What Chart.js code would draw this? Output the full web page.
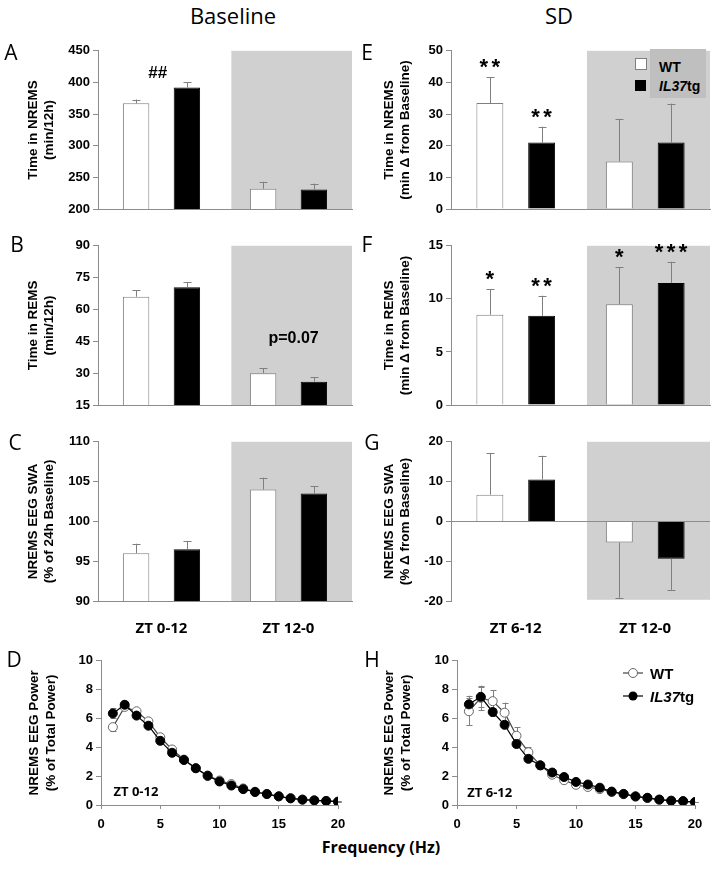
<!DOCTYPE html>
<html>
<head>
  <meta charset="utf-8">
  <title>NREMS / REMS / SWA in WT and IL37tg mice</title>
  <script src="https://cdn.jsdelivr.net/npm/chart.js"></script>
  <style>
    body { margin: 0; background: #fff; }
    #fig { position: relative; width: 714px; height: 876px; overflow: hidden; }
    #fig canvas { position: absolute; }
    /* text placed by its centre point */
    .c { position: absolute; transform: translate(-50%, -50%); white-space: nowrap; line-height: 1; }
    .head { font-family: "Open Sans", sans-serif; font-size: 22px; }
    .letter { font-family: "Open Sans", sans-serif; font-size: 21px; }
    .leg { position: absolute; transform: translateY(-50%); white-space: nowrap; line-height: 1;
           font-family: "Liberation Sans", Arial, sans-serif; font-weight: bold; }
    .box { position: absolute; }
  </style>
</head>
<body>
<div id="fig">
  <canvas id="chartA" width="357" height="209" style="left:0;top:40px"></canvas>
  <canvas id="chartB" width="357" height="210" style="left:0;top:235px"></canvas>
  <canvas id="chartC" width="357" height="210" style="left:0;top:431px"></canvas>
  <canvas id="chartD" width="357" height="185" style="left:0;top:650px"></canvas>
  <canvas id="chartE" width="357" height="209" style="left:357px;top:40px"></canvas>
  <canvas id="chartF" width="357" height="210" style="left:357px;top:235px"></canvas>
  <canvas id="chartG" width="357" height="210" style="left:357px;top:431px"></canvas>
  <canvas id="chartH" width="357" height="185" style="left:357px;top:650px"></canvas>

  <!-- column headings and panel letters -->
  <div class="c head" style="left:233px;top:15px">Baseline</div>
  <div class="c head" style="left:559px;top:15px">SD</div>
  <div class="c letter" style="left:11px;top:52px">A</div>
  <div class="c letter" style="left:17px;top:244px">B</div>
  <div class="c letter" style="left:15px;top:442px">C</div>
  <div class="c letter" style="left:14px;top:659px">D</div>
  <div class="c letter" style="left:367px;top:52px">E</div>
  <div class="c letter" style="left:367px;top:244px">F</div>
  <div class="c letter" style="left:372px;top:442px">G</div>
  <div class="c letter" style="left:372px;top:659px">H</div>

  <div class="c" style="left:381px;top:847px;font-family:'Open Sans',sans-serif;font-weight:bold;font-size:16px">Frequency (Hz)</div>

  <!-- legend of panel E -->
  <div class="box" style="left:650px;top:49px;width:56px;height:49px;background:#bfbfbf"></div>
  <div class="box" style="left:635px;top:58px;width:10px;height:10px;background:#fff;border:1px solid #7f7f7f"></div>
  <div class="box" style="left:635px;top:80px;width:11px;height:11px;background:#000"></div>
  <div class="leg" style="left:659px;top:67px;font-size:14px">WT</div>
  <div class="leg" style="left:659px;top:86px;font-size:14px"><i>IL37</i>tg</div>

  <!-- legend of panel H -->
  <svg class="box" style="left:620px;top:663px" width="26" height="44">
    <line x1="3" y1="10" x2="23" y2="10" stroke="#444" stroke-width="1.2"/>
    <circle cx="13" cy="10" r="4.5" fill="#fff" stroke="#666" stroke-width="1"/>
    <line x1="3" y1="33" x2="23" y2="33" stroke="#000" stroke-width="1.2"/>
    <circle cx="13" cy="33" r="4.5" fill="#000"/>
  </svg>
  <div class="leg" style="left:650px;top:673px;font-size:15px">WT</div>
  <div class="leg" style="left:650px;top:696px;font-size:15px"><i>IL37</i>tg</div>
</div>

<script>
  // ---- categories ----
  const baseGroups = ['ZT 0-12', 'ZT 12-0'];
  const sdGroups = ['ZT 6-12', 'ZT 12-0'];
  const freqHz = [1, 2, 3, 4, 5, 6, 7, 8, 9, 10, 11, 12, 13, 14, 15, 16, 17, 18, 19, 20];

  // ---- Baseline (A-C) ----
  const nremBaseWT = [367, 232];
  const nremBaseWTErr = [6, 11];
  const nremBaseTG = [392, 231];
  const nremBaseTGErr = [8, 9];

  const remBaseWT = [66, 30];
  const remBaseWTErr = [3, 2.2];
  const remBaseTG = [70.5, 26];
  const remBaseTGErr = [2.5, 2];

  const swaBaseWT = [96, 104];
  const swaBaseWTErr = [1.2, 1.5];
  const swaBaseTG = [96.5, 103.5];
  const swaBaseTGErr = [1.0, 0.9];

  // ---- Sleep deprivation (E-G) ----
  const nremSdWT = [33.5, 15];
  const nremSdWTErr = [8.2, 13.5];
  const nremSdTG = [21, 21];
  const nremSdTGErr = [5, 12.3];

  const remSdWT = [8.5, 9.5];
  const remSdWTErr = [2.4, 3.5];
  const remSdTG = [8.4, 11.5];
  const remSdTGErr = [1.9, 2];

  const swaSdWT = [6.7, -5.3];
  const swaSdWTErr = [10.5, 13.9];
  const swaSdTG = [10.5, -9.4];
  const swaSdTGErr = [6, 7.8];

  // significance marks above bars
  const sigNremSdWT = ['**', ''];
  const sigNremSdTG = ['**', ''];
  const sigRemSdWT = ['*', '*'];
  const sigRemSdTG = ['**', '***'];

  // ---- EEG spectra (D, H) ----
  const specBaseWT = [5.4, 6.8, 6.5, 5.8, 4.7, 3.85, 3.15, 2.55, 2.05, 1.7, 1.45, 1.15, 0.92, 0.76, 0.6, 0.47, 0.38, 0.32, 0.28, 0.23];
  const specBaseWTErr = [0.25, 0.15, 0.12, 0.1, 0.08, 0.06, 0.05, 0.04, 0.03, 0.03, 0.02, 0.02, 0.02, 0.02, 0.02, 0.02, 0.02, 0.02, 0.02, 0.02];
  const specBaseTG = [6.35, 6.95, 6.2, 5.5, 4.45, 3.62, 3.12, 2.55, 2.02, 1.63, 1.35, 1.1, 0.9, 0.76, 0.6, 0.46, 0.37, 0.32, 0.28, 0.23];
  const specBaseTGErr = [0.35, 0.15, 0.1, 0.1, 0.08, 0.06, 0.05, 0.04, 0.03, 0.03, 0.02, 0.02, 0.02, 0.02, 0.02, 0.02, 0.02, 0.02, 0.02, 0.02];

  const specSdWT = [6.5, 7.43, 7.2, 6.4, 4.8, 3.66, 2.75, 2.1, 1.72, 1.4, 1.25, 1.1, 0.9, 0.75, 0.58, 0.48, 0.36, 0.29, 0.25, 0.2];
  const specSdWTErr = [0.95, 0.85, 0.76, 0.7, 0.6, 0.35, 0.25, 0.15, 0.12, 0.1, 0.08, 0.07, 0.06, 0.05, 0.04, 0.03, 0.03, 0.02, 0.02, 0.02];
  const specSdTG = [6.98, 7.5, 6.45, 5.56, 4.23, 3.2, 2.75, 2.25, 1.94, 1.6, 1.42, 1.2, 0.93, 0.77, 0.6, 0.5, 0.38, 0.3, 0.27, 0.2];
  const specSdTGErr = [0.6, 0.7, 0.3, 0.25, 0.2, 0.15, 0.12, 0.1, 0.08, 0.07, 0.06, 0.05, 0.04, 0.04, 0.03, 0.03, 0.02, 0.02, 0.02, 0.02];

  const axisGray = '#8c8c8c';
  const tickFont = { family: "'Liberation Sans', Arial, sans-serif", weight: 'bold', size: 13 };
  const titleFont = { family: "'Liberation Sans', Arial, sans-serif", weight: 'bold', size: 13.5, lineHeight: 1.2 };

  Chart.defaults.font.family = "'Liberation Sans', Arial, sans-serif";
  Chart.defaults.color = '#000';

  // grey "dark phase" background, drawn under axes and bars
  const shadePlugin = {
    id: 'shade',
    beforeDraw(chart, args, opts) {
      if (opts.from == null) return;
      const { ctx, chartArea: a, scales } = chart;
      const x0 = scales.x.getPixelForValue(opts.from);
      const yb = opts.toValue != null ? scales.y.getPixelForValue(opts.toValue) : a.bottom;
      ctx.save();
      ctx.fillStyle = '#d0d0d0';
      ctx.fillRect(x0, a.top, a.right - x0, yb - a.top);
      ctx.restore();
    }
  };

  function drawErrors(chart, type) {
    if (chart.config.type !== type) return;
    const { ctx } = chart;
    const y = chart.scales.y;
    ctx.save();
    ctx.strokeStyle = '#7f7f7f';
    ctx.lineWidth = 1;
    chart.data.datasets.forEach((ds, i) => {
      if (!ds.errors) return;
      chart.getDatasetMeta(i).data.forEach((el, j) => {
        const raw = ds.data[j];
        const v = typeof raw === 'object' ? raw.y : raw;
        const e = ds.errors[j];
        const x = Math.round(el.x) + 0.5;
        const ends = type === 'bar' ? [v, v + (v < 0 ? -e : e)] : [v - e, v + e];
        const p0 = y.getPixelForValue(ends[0]), p1 = y.getPixelForValue(ends[1]);
        ctx.beginPath();
        ctx.moveTo(x, p0);
        ctx.lineTo(x, p1);
        const capW = type === 'bar' ? 4 : 3;
        ctx.moveTo(x - capW, Math.round(p1) + 0.5);
        ctx.lineTo(x + capW, Math.round(p1) + 0.5);
        if (type !== 'bar') {
          ctx.moveTo(x - capW, Math.round(p0) + 0.5);
          ctx.lineTo(x + capW, Math.round(p0) + 0.5);
        }
        ctx.stroke();
      });
    });
    ctx.restore();
  }

  const errorPlugin = {
    id: 'errbars',
    beforeDatasetsDraw(chart) { drawErrors(chart, 'line'); },
    afterDatasetsDraw(chart) { drawErrors(chart, 'bar'); }
  };

  // asterisks above the error bars
  const sigPlugin = {
    id: 'sig',
    afterDatasetsDraw(chart) {
      const { ctx } = chart;
      const y = chart.scales.y;
      ctx.save();
      ctx.fillStyle = '#000';
      ctx.font = "bold 22px 'Liberation Sans', Arial, sans-serif";
      ctx.textBaseline = 'alphabetic';
      chart.data.datasets.forEach((ds, i) => {
        if (!ds.sig) return;
        chart.getDatasetMeta(i).data.forEach((el, j) => {
          const s = ds.sig[j];
          if (!s) return;
          const top = y.getPixelForValue(ds.data[j] + ds.errors[j]);
          const step = 12;
          const x0 = el.x - (s.length - 1) * step / 2;
          ctx.textAlign = 'center';
          for (let k = 0; k < s.length; k++) ctx.fillText(s[k], x0 + k * step, top - 3);
        });
      });
      ctx.restore();
    }
  };

  // free text placed at data coordinates
  const notesPlugin = {
    id: 'notes',
    afterDatasetsDraw(chart, args, opts) {
      if (!opts.items) return;
      const { ctx, scales } = chart;
      ctx.save();
      ctx.fillStyle = '#000';
      ctx.textAlign = 'center';
      ctx.textBaseline = 'middle';
      opts.items.forEach(n => {
        ctx.font = n.font;
        ctx.fillText(n.text, scales.x.getPixelForValue(n.x), scales.y.getPixelForValue(n.y));
      });
      ctx.restore();
    }
  };

  Chart.register(shadePlugin, errorPlugin, sigPlugin, notesPlugin);

  function barPanel(id, labels, wt, wtErr, tg, tgErr, o) {
    return new Chart(document.getElementById(id), {
      type: 'bar',
      data: {
        labels: labels,
        datasets: [
          { label: 'WT', data: wt, errors: wtErr, sig: o.sigWT,
            backgroundColor: '#fff', borderColor: '#7f7f7f', borderWidth: 1,
            categoryPercentage: 0.8, barPercentage: 0.52 },
          { label: 'IL37tg', data: tg, errors: tgErr, sig: o.sigTG,
            backgroundColor: '#000', borderColor: '#000', borderWidth: 1,
            categoryPercentage: 0.8, barPercentage: 0.52 }
        ]
      },
      options: {
        responsive: false,
        animation: false,
        devicePixelRatio: 1,
        layout: { padding: { top: 10, right: o.padRight, bottom: 0, left: 0 } },
        plugins: {
          legend: { display: false },
          tooltip: { enabled: false },
          shade: { from: 0.55, toValue: o.shadeTo },
          notes: { items: o.notes }
        },
        scales: {
          x: {
            grid: { display: true, drawOnChartArea: false, drawTicks: false },
            border: { display: !o.zeroLine, color: axisGray },
            ticks: { display: !!o.showX, color: '#000', padding: 19,
                     font: { family: "'Open Sans', sans-serif", weight: 'bold', size: 15 } },
            afterFit: s => { s.height = 40; }
          },
          y: {
            min: o.min, max: o.max,
            ticks: { stepSize: o.step, color: '#000', font: tickFont, padding: 3 },
            grid: {
              drawOnChartArea: !!o.zeroLine,
              color: c => (c.tick && c.tick.value === 0) ? axisGray : 'rgba(0,0,0,0)',
              tickColor: axisGray, tickLength: 5
            },
            border: { color: axisGray },
            title: { display: true, text: o.title, color: '#000', font: titleFont,
                     padding: { top: o.titlePad, bottom: 0 } },
            afterFit: s => { s.width = o.yWidth; }
          }
        }
      }
    });
  }

  function spectrumPanel(id, wt, wtErr, tg, tgErr, o) {
    return new Chart(document.getElementById(id), {
      type: 'line',
      data: {
        datasets: [
          { label: 'WT', data: freqHz.map((f, i) => ({ x: f, y: wt[i] })), errors: wtErr, order: 2,
            borderColor: '#444', borderWidth: 1.2, pointRadius: 4.5,
            pointBackgroundColor: '#fff', pointBorderColor: '#666', pointBorderWidth: 1 },
          { label: 'IL37tg', data: freqHz.map((f, i) => ({ x: f, y: tg[i] })), errors: tgErr, order: 1,
            borderColor: '#000', borderWidth: 1.2, pointRadius: 4.5,
            pointBackgroundColor: '#000', pointBorderColor: '#000', pointBorderWidth: 1 }
        ]
      },
      options: {
        responsive: false,
        animation: false,
        devicePixelRatio: 1,
        layout: { padding: { top: 10, right: o.padRight, bottom: 0, left: 0 } },
        plugins: {
          legend: { display: false },
          tooltip: { enabled: false },
          notes: { items: o.notes }
        },
        scales: {
          x: {
            type: 'linear', min: 0, max: 20,
            ticks: { stepSize: 5, color: '#000', font: tickFont, padding: 8 },
            grid: { drawOnChartArea: false, tickColor: axisGray, tickLength: 4 },
            border: { color: axisGray },
            afterFit: s => { s.height = 30; }
          },
          y: {
            min: 0, max: 10,
            ticks: { stepSize: 2, color: '#000', font: tickFont, padding: 3 },
            grid: { drawOnChartArea: false, tickColor: axisGray, tickLength: 5 },
            border: { color: axisGray },
            title: { display: true, text: ['NREMS EEG Power', '(% of Total Power)'], color: '#000',
                     font: Object.assign({}, titleFont, { lineHeight: 1.25 }),
                     padding: { top: o.titlePad, bottom: 0 } },
            afterFit: s => { s.width = o.yWidth; }
          }
        }
      }
    });
  }

  const noteFont = "bold 17px 'Liberation Sans', Arial, sans-serif";

  barPanel('chartA', baseGroups, nremBaseWT, nremBaseWTErr, nremBaseTG, nremBaseTGErr, {
    min: 200, max: 450, step: 50, title: ['Time in NREMS', '(min/12h)'],
    yWidth: 98, padRight: 5, titlePad: 25,
    notes: [{ text: '##', x: -0.03, y: 415, font: noteFont }]
  });
  barPanel('chartB', baseGroups, remBaseWT, remBaseWTErr, remBaseTG, remBaseTGErr, {
    min: 15, max: 90, step: 15, title: ['Time in REMS', '(min/12h)'],
    yWidth: 98, padRight: 5, titlePad: 25,
    notes: [{ text: 'p=0.07', x: 1.04, y: 46.4, font: "bold 16px 'Liberation Sans', Arial, sans-serif" }]
  });
  barPanel('chartC', baseGroups, swaBaseWT, swaBaseWTErr, swaBaseTG, swaBaseTGErr, {
    min: 90, max: 110, step: 5, title: ['NREMS EEG SWA', '(% of 24h Baseline)'],
    yWidth: 98, padRight: 5, titlePad: 25, showX: true
  });
  barPanel('chartE', sdGroups, nremSdWT, nremSdWTErr, nremSdTG, nremSdTGErr, {
    min: 0, max: 50, step: 10, title: ['Time in NREMS', '(min \u0394 from Baseline)'],
    yWidth: 94, padRight: 4, titlePad: 24, sigWT: sigNremSdWT, sigTG: sigNremSdTG
  });
  barPanel('chartF', sdGroups, remSdWT, remSdWTErr, remSdTG, remSdTGErr, {
    min: 0, max: 15, step: 5, title: ['Time in REMS', '(min \u0394 from Baseline)'],
    yWidth: 94, padRight: 4, titlePad: 24, sigWT: sigRemSdWT, sigTG: sigRemSdTG
  });
  barPanel('chartG', sdGroups, swaSdWT, swaSdWTErr, swaSdTG, swaSdTGErr, {
    min: -20, max: 20, step: 10, title: ['NREMS EEG SWA', '(% \u0394 from Baseline)'],
    yWidth: 94, padRight: 4, titlePad: 24, showX: true, zeroLine: true, shadeTo: -19.7
  });

  spectrumPanel('chartD', specBaseWT, specBaseWTErr, specBaseTG, specBaseTGErr, {
    yWidth: 101, padRight: 19, titlePad: 26,
    notes: [{ text: 'ZT 0-12', x: 2.95, y: 0.85, font: "bold 13px 'Open Sans', sans-serif" }]
  });
  spectrumPanel('chartH', specSdWT, specSdWTErr, specSdTG, specSdTGErr, {
    yWidth: 100, padRight: 19, titlePad: 24,
    notes: [{ text: 'ZT 6-12', x: 2.75, y: 0.83, font: "bold 13px 'Open Sans', sans-serif" }]
  });
</script>
</body>
</html>
